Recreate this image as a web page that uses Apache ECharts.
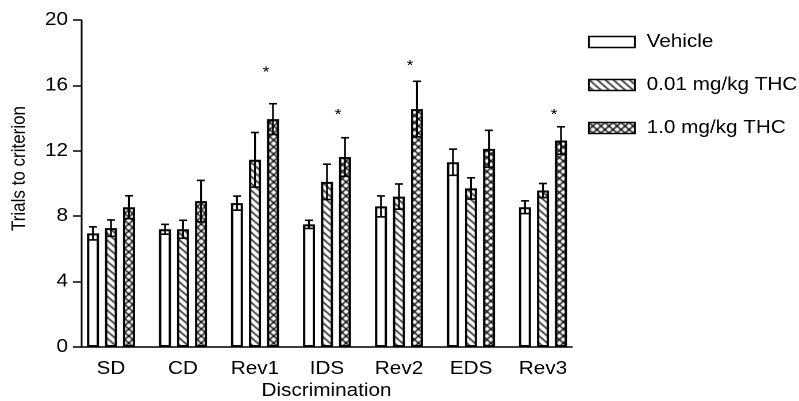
<!DOCTYPE html>
<html>
<head>
<meta charset="utf-8">
<script src="https://cdn.jsdelivr.net/npm/echarts@6/dist/echarts.min.js"></script>
<style>
html,body{margin:0;padding:0;background:#fff;overflow:hidden}
#wrap{width:799px;height:401px;overflow:hidden}
#c{width:695px;height:401px;transform-origin:0 0;transform:scaleX(1.1496)}
</style>
</head>
<body>
<div id="wrap"><div id="c"></div></div>
<script>
const categories = ['SD', 'CD', 'Rev1', 'IDS', 'Rev2', 'EDS', 'Rev3'];
const seriesNames = ['Vehicle', '0.01 mg/kg THC', '1.0 mg/kg THC'];
const vehicle    = [6.95, 7.2, 8.8, 7.5, 8.6, 11.3, 8.55];
const vehicleErr = [0.4, 0.3, 0.43, 0.25, 0.64, 0.8, 0.39];
const thc001     = [7.27, 7.2, 11.45, 10.1, 9.2, 9.7, 9.57];
const thc001Err  = [0.5, 0.55, 1.67, 1.08, 0.77, 0.65, 0.43];
const thc10      = [8.55, 8.92, 13.94, 11.62, 14.55, 12.12, 12.63];
const thc10Err   = [0.7, 1.27, 0.94, 1.18, 1.7, 1.13, 0.84];
const stars      = [null, null, 16.8, 14.2, 17.2, null, 14.2];
const yTicks = [0, 4, 8, 12, 16, 20];

const S = 799 / 695;              // horizontal stretch of the whole figure
const X = px => px / S;           // screen px -> chart units (horizontal)
const FONT = 'Liberation Sans, Arial, Helvetica, sans-serif';
const BAR_W = X(12), BAR_GAP = 0.5;
const STEP = BAR_W * (1 + BAR_GAP);

function makePattern(kind) {
  const s = 7;
  const cv = document.createElement('canvas');
  cv.width = s * 2; cv.height = s * 2;
  const ctx = cv.getContext('2d');
  ctx.scale(2, 2);
  ctx.fillStyle = '#fff';
  ctx.fillRect(0, 0, s, s);
  ctx.strokeStyle = '#000';
  ctx.lineWidth = 1.3;
  for (const o of [-s, 0, s]) {
    ctx.beginPath();
    ctx.moveTo(o - 1, -1); ctx.lineTo(o + s + 1, s + 1);
    ctx.stroke();
    if (kind === 'cross') {
      ctx.beginPath();
      ctx.moveTo(o - 1, s + 1); ctx.lineTo(o + s + 1, -1);
      ctx.stroke();
    }
  }
  const out = document.createElement('canvas');
  out.width = s; out.height = s;
  out.getContext('2d').drawImage(cv, 0, 0, s, s);
  return { image: out, repeat: 'repeat' };
}

const fills = ['#ffffff', makePattern('diag'), makePattern('cross')];
const values = [vehicle, thc001, thc10];
const errs = [vehicleErr, thc001Err, thc10Err];

const barSeries = seriesNames.map((n, k) => ({
  name: n,
  type: 'bar',
  xAxisIndex: 0, yAxisIndex: 0,
  barWidth: BAR_W,
  barGap: (BAR_GAP * 100) + '%',
  data: values[k],
  itemStyle: { color: fills[k], borderColor: '#000', borderWidth: 2 },
  emphasis: { disabled: true },
  z: 2
}));

const errData = [];
values.forEach((arr, k) => arr.forEach((v, i) => {
  errData.push([i, v - errs[k][i], v + errs[k][i], k]);
}));

const errSeries = {
  type: 'custom',
  xAxisIndex: 0, yAxisIndex: 0,
  data: errData,
  encode: { x: 0, y: [1, 2] },
  z: 5,
  silent: true,
  renderItem: function (params, api) {
    const i = api.value(0), lo = api.value(1), hi = api.value(2), k = api.value(3);
    const p0 = api.coord([i, lo]);
    const p1 = api.coord([i, hi]);
    const x = p0[0] + (k - 1) * STEP;
    const half = X(4);
    const st = { stroke: '#000', lineWidth: 1.6 };
    return {
      type: 'group',
      children: [
        { type: 'line', shape: { x1: x, y1: p0[1], x2: x, y2: p1[1] }, style: st },
        { type: 'line', shape: { x1: x - half, y1: p1[1], x2: x + half, y2: p1[1] }, style: st },
        { type: 'line', shape: { x1: x - half, y1: p0[1], x2: x + half, y2: p0[1] }, style: st }
      ]
    };
  }
};

const starData = [];
stars.forEach((v, i) => { if (v != null) starData.push([i, v]); });
const starSeries = {
  type: 'custom',
  xAxisIndex: 0, yAxisIndex: 0,
  data: starData,
  z: 6,
  silent: true,
  renderItem: function (params, api) {
    const p = api.coord([api.value(0), api.value(1)]);
    return {
      type: 'text',
      x: p[0] + X(11), y: p[1],
      style: { text: '*', fill: '#000', font: '15px ' + FONT, align: 'center', verticalAlign: 'middle' }
    };
  }
};

const chart = echarts.init(document.getElementById('c'), null, { renderer: 'canvas', devicePixelRatio: 2 });
chart.setOption({
  animation: false,
  backgroundColor: '#fff',
  textStyle: { fontFamily: FONT, color: '#000' },
  grid: [
    { left: X(75), right: X(220), top: 20, bottom: 54, containLabel: false, outerBoundsMode: 'none' },
    { left: X(81), right: X(227), top: 20, bottom: 54, containLabel: false, outerBoundsMode: 'none' }
  ],
  legend: {
    data: seriesNames,
    orient: 'vertical',
    left: X(588), top: 32,
    padding: 0,
    itemWidth: X(46), itemHeight: 11,
    itemGap: 23,
    icon: 'rect',
    itemStyle: { borderColor: '#000', borderWidth: 1.5 },
    textStyle: { fontFamily: FONT, fontSize: 18, color: '#000', lineHeight: 20, padding: [0, 0, 0, X(6)] },
    selectedMode: false
  },
  xAxis: [
    {
      type: 'category', gridIndex: 0, data: categories,
      axisLine: { show: false }, axisTick: { show: false },
      axisLabel: { fontFamily: FONT, fontSize: 18, color: '#000', margin: 13 }
    },
    {
      type: 'value', gridIndex: 1, min: 0, max: 1, position: 'bottom',
      axisLine: { show: true, onZero: false, lineStyle: { color: '#000', width: 1.5 } },
      axisTick: { show: false }, axisLabel: { show: false }, splitLine: { show: false },
      name: 'Discrimination', nameLocation: 'middle', nameGap: 35,
      nameTextStyle: { fontFamily: FONT, fontSize: 18, color: '#000' }
    }
  ],
  yAxis: [
    {
      type: 'value', gridIndex: 0, min: 0, max: 20, interval: 4, offset: X(-6),
      axisLine: { show: true, lineStyle: { color: '#000', width: 1.5 } },
      axisTick: { show: true, length: X(8), lineStyle: { color: '#000', width: 1.5 } },
      axisLabel: { fontFamily: FONT, fontSize: 18, color: '#000', margin: X(13),
        formatter: v => (yTicks.indexOf(v) >= 0 ? String(v) : '') },
      splitLine: { show: false },
      name: 'Trials to criterion', nameLocation: 'middle', nameGap: X(52), nameRotate: 90,
      nameTextStyle: { fontFamily: FONT, fontSize: 17, color: '#000', padding: [0, 0, 0, 30] }
    },
    {
      type: 'value', gridIndex: 1, min: 0, max: 20, show: false
    }
  ],
  series: barSeries.concat([errSeries, starSeries])
});
</script>
</body>
</html>
